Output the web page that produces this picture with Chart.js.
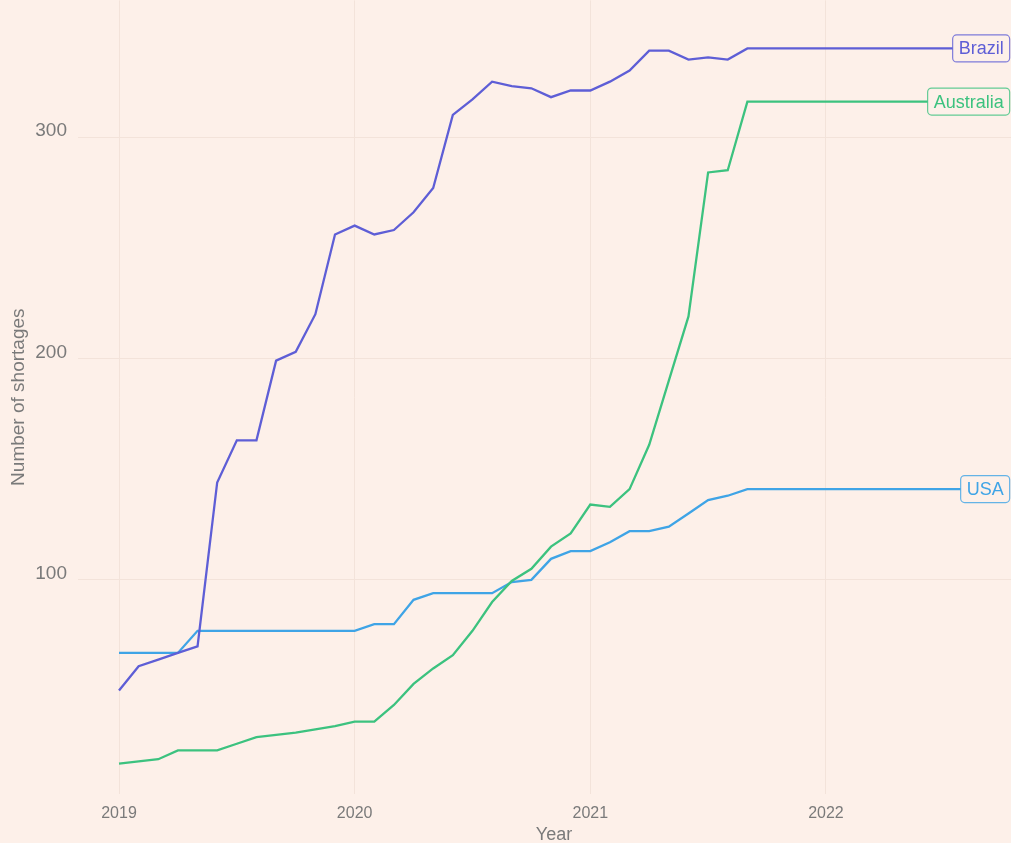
<!DOCTYPE html>
<html>
<head>
<meta charset="utf-8">
<script src="https://cdn.jsdelivr.net/npm/chart.js@4"></script>
<style>
  html, body { margin: 0; padding: 0; background: #FDF0E9; overflow: hidden; }
  #wrap { width: 1030px; height: 845px; overflow: hidden; }
  #chart { display: block; }
</style>
</head>
<body>
<div id="wrap"><canvas id="chart" width="1030" height="868"></canvas></div>
<script>
// monthly observations, last entry carries the final value forward
const months = [
  '2019-01', '2019-02', '2019-03', '2019-04', '2019-05', '2019-06',
  '2019-07', '2019-08', '2019-09', '2019-10', '2019-11', '2019-12',
  '2020-01', '2020-02', '2020-03', '2020-04', '2020-05', '2020-06',
  '2020-07', '2020-08', '2020-09', '2020-10', '2020-11', '2020-12',
  '2021-01', '2021-02', '2021-03', '2021-04', '2021-05', '2021-06',
  '2021-07', '2021-08', '2021-09', '2022-10'
];
const brazil = [
  50, 61, 64, 67, 70, 144, 163, 163, 199, 203, 220, 256,
  260, 256, 258, 266, 277, 310, 317, 325, 323, 322, 318, 321,
  321, 325, 330, 339, 339, 335, 336, 335, 340, 340
];
const australia = [
  17, 18, 19, 23, 23, 23, 26, 29, 30, 31, 32.5, 34,
  36, 36, 43.5, 53, 60, 66, 77, 90, 99.5, 105, 115, 121,
  134, 133, 141, 161, 190, 219, 284, 285, 316, 316
];
const usa = [
  67, 67, 67, 67, 77, 77, 77, 77, 77, 77, 77, 77,
  77, 80, 80, 91, 94, 94, 94, 94, 99, 100, 109.5, 113,
  113, 117, 122, 122, 124, 130, 136, 138, 141, 141
];
const yearTicks = [2019, 2020, 2021, 2022];
const countTicks = [100, 200, 300];

const BG = '#FDF0E9';
const GRID = '#F3E3DA';
const TEXT = '#7a7a7a';
const FONT = '"Liberation Sans", Arial, sans-serif';

function toYear(m) {
  const [y, mo] = m.split('-').map(Number);
  return y + (mo - 1) / 12;
}

function points(values) {
  return values.map((v, i) => ({ x: toYear(months[i]), y: v }));
}

function series(label, values, color) {
  return {
    label: label,
    data: points(values),
    borderColor: color,
    borderWidth: 2.3,
    pointRadius: 0,
    tension: 0,
    fill: false
  };
}

// boxed labels at the end of each line
const endLabels = {
  id: 'endLabels',
  afterDatasetsDraw(chart) {
    const ctx = chart.ctx;
    chart.data.datasets.forEach((ds, i) => {
      const meta = chart.getDatasetMeta(i);
      const last = meta.data[meta.data.length - 1];
      ctx.save();
      ctx.font = '18px ' + FONT;
      const w = ctx.measureText(ds.label).width;
      const padX = 6, h = 27;
      const right = last.x + 7;
      const left = right - w - 2 * padX;
      const top = last.y - h / 2;
      ctx.beginPath();
      ctx.roundRect(left, top, w + 2 * padX, h, 4);
      ctx.fillStyle = BG;
      ctx.fill();
      ctx.globalAlpha = 0.8;
      ctx.lineWidth = 1.2;
      ctx.strokeStyle = ds.borderColor;
      ctx.stroke();
      ctx.globalAlpha = 1;
      ctx.fillStyle = ds.borderColor;
      ctx.textBaseline = 'middle';
      ctx.fillText(ds.label, left + padX, last.y + 1);
      ctx.restore();
    });
  }
};

const canvas = document.getElementById('chart');
const chart = new Chart(canvas.getContext('2d'), {
  type: 'line',
  data: {
    datasets: [
      series('Brazil', brazil, '#5E5ED6'),
      series('Australia', australia, '#3CC27F'),
      series('USA', usa, '#3FA4E6')
    ]
  },
  options: {
    responsive: false,
    animation: false,
    devicePixelRatio: 1,
    layout: { padding: 0 },
    plugins: {
      legend: { display: false },
      tooltip: { enabled: false }
    },
    scales: {
      x: {
        type: 'linear',
        min: 2018.826,
        max: 2022.866,
        afterBuildTicks: scale => { scale.ticks = yearTicks.map(v => ({ value: v })); },
        afterFit: scale => { scale.height = 52; },
        grid: { color: GRID, lineWidth: 1, drawTicks: false },
        border: { display: false },
        ticks: {
          color: TEXT,
          font: { family: FONT, size: 16 },
          padding: 10,
          maxRotation: 0,
          callback: v => String(v)
        },
        title: {
          display: true,
          text: 'Year',
          color: TEXT,
          font: { family: FONT, size: 18 },
          padding: { top: 0, bottom: 0 }
        }
      },
      y: {
        min: 3.3,
        max: 361.7,
        afterBuildTicks: scale => { scale.ticks = countTicks.map(v => ({ value: v })); },
        afterFit: scale => { scale.width = 78; },
        grid: { color: GRID, lineWidth: 1, drawTicks: false },
        border: { display: false },
        ticks: {
          color: TEXT,
          font: { family: FONT, size: 19 },
          padding: 11,
          labelOffset: -6
        },
        title: {
          display: true,
          text: 'Number of shortages',
          color: TEXT,
          font: { family: FONT, size: 19 },
          padding: { top: 7, bottom: 0 }
        }
      }
    }
  },
  plugins: [endLabels]
});

// the reference panel runs to the top edge: hide the label padding above it
canvas.style.marginTop = (-chart.chartArea.top) + 'px';
</script>
</body>
</html>
